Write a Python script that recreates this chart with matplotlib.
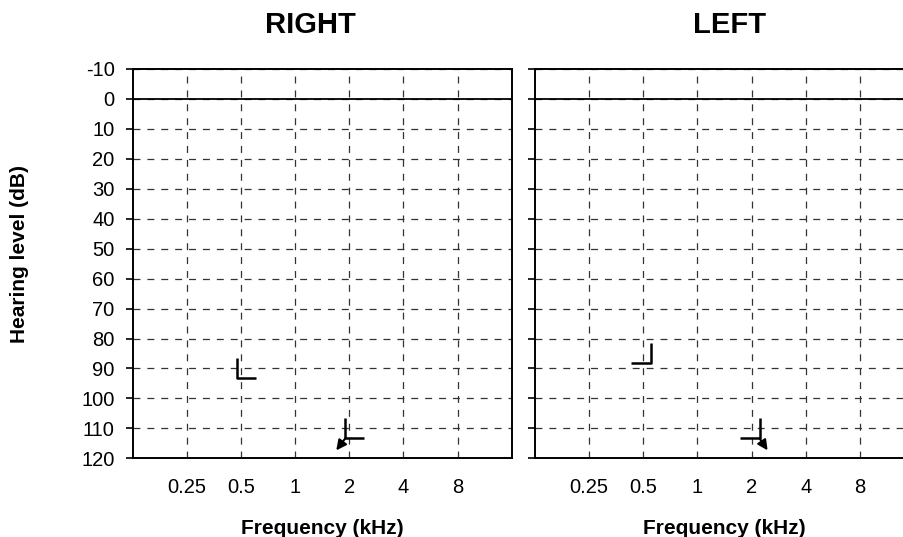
import matplotlib
matplotlib.use('Agg')
import matplotlib.pyplot as plt
from matplotlib.path import Path
from matplotlib.markers import MarkerStyle
from matplotlib.transforms import offset_copy

plt.rcParams['font.family'] = ['Liberation Sans', 'DejaVu Sans']
plt.rcParams['lines.scale_dashes'] = False
plt.rcParams['axes.unicode_minus'] = False

# ---- data ----
freq_ticks = [0.25, 0.5, 1, 2, 4, 8]
freq_labels = ['0.25', '0.5', '1', '2', '4', '8']
db_ticks = list(range(-10, 130, 10))

# masked bone conduction thresholds
right_freq = [0.5, 2]
right_db = [90, 110]
right_nr = [False, True]   # no response -> arrow

left_freq = [0.5, 2]
left_db = [85, 110]
left_nr = [False, True]

DPI = 100
fig = plt.figure(figsize=(9.04, 5.37), dpi=DPI)

W, H = 904, 537
def px_axes(x0, y0, x1, y1):
    return [x0 / W, 1 - y1 / H, (x1 - x0) / W, (y1 - y0) / H]

ax_r = fig.add_axes(px_axes(132.7, 69, 511.7, 458.3))
ax_l = fig.add_axes(px_axes(535, 69, 914, 458.3))


def bracket_marker(verts):
    m = max(abs(v) for xy in verts for v in xy)
    path = Path(verts, [Path.MOVETO, Path.LINETO, Path.LINETO])
    ms = 2 * m * 72 / DPI
    return MarkerStyle(path, fillstyle='none', joinstyle='miter', capstyle='butt'), ms


def setup(ax):
    ax.set_xscale('log', base=2)
    ax.set_xlim(0.125, 16)
    ax.set_ylim(120, -10)
    ax.set_xticks(freq_ticks, freq_labels)
    ax.minorticks_off()
    ax.set_yticks(db_ticks)
    ax.grid(True, color='#333333', lw=0.9, linestyle=(0, (5, 5)))
    ax.axhline(0, color='black', lw=1.3, zorder=2)
    ax.tick_params(axis='x', length=0, pad=14, labelsize=14.5)
    ax.tick_params(axis='y', length=5, width=1.2, pad=8, labelsize=14.5, direction='out')
    for s in ax.spines.values():
        s.set_linewidth(1.4)
    ax.set_xlabel('Frequency (kHz)', fontsize=15, fontweight='bold', labelpad=16)


def draw_ear(ax, freqs, dbs, nrs, verts, tail, tip):
    mk, ms = bracket_marker(verts)
    ax.plot(freqs, dbs, ls='none', marker=mk, ms=ms, mew=1.8, color='black',
            clip_on=False, zorder=5)
    for f, d, nr in zip(freqs, dbs, nrs):
        if not nr:
            continue
        ax.annotate('', xy=(f, d), xytext=(f, d),
                    xycoords=offset_copy(ax.transData, fig=fig, x=tip[0], y=tip[1], units='dots'),
                    textcoords=offset_copy(ax.transData, fig=fig, x=tail[0], y=tail[1], units='dots'),
                    arrowprops=dict(arrowstyle='-|>', color='black', lw=1.5,
                                    mutation_scale=15, shrinkA=0, shrinkB=0))


setup(ax_r)
setup(ax_l)
ax_l.spines['right'].set_visible(False)
ax_l.tick_params(axis='y', labelleft=False)

draw_ear(ax_r, right_freq, right_db, right_nr,
         [(-4, 10), (-4, -10), (15, -10)], tail=(-4, -10), tip=(-13, -22))
draw_ear(ax_l, left_freq, left_db, left_nr,
         [(8, 10), (8, -10), (-12, -10)], tail=(8, -10), tip=(16, -22))

fig.text(310 / W, 1 - 25 / H, 'RIGHT', fontsize=21, fontweight='bold', ha='center', va='center')
fig.text(730 / W, 1 - 25 / H, 'LEFT', fontsize=21, fontweight='bold', ha='center', va='center')
fig.text(20 / W, 1 - 254 / H, 'Hearing level (dB)', fontsize=15, fontweight='bold',
         rotation=90, ha='center', va='center')

fig.savefig('out.png', dpi=DPI)
